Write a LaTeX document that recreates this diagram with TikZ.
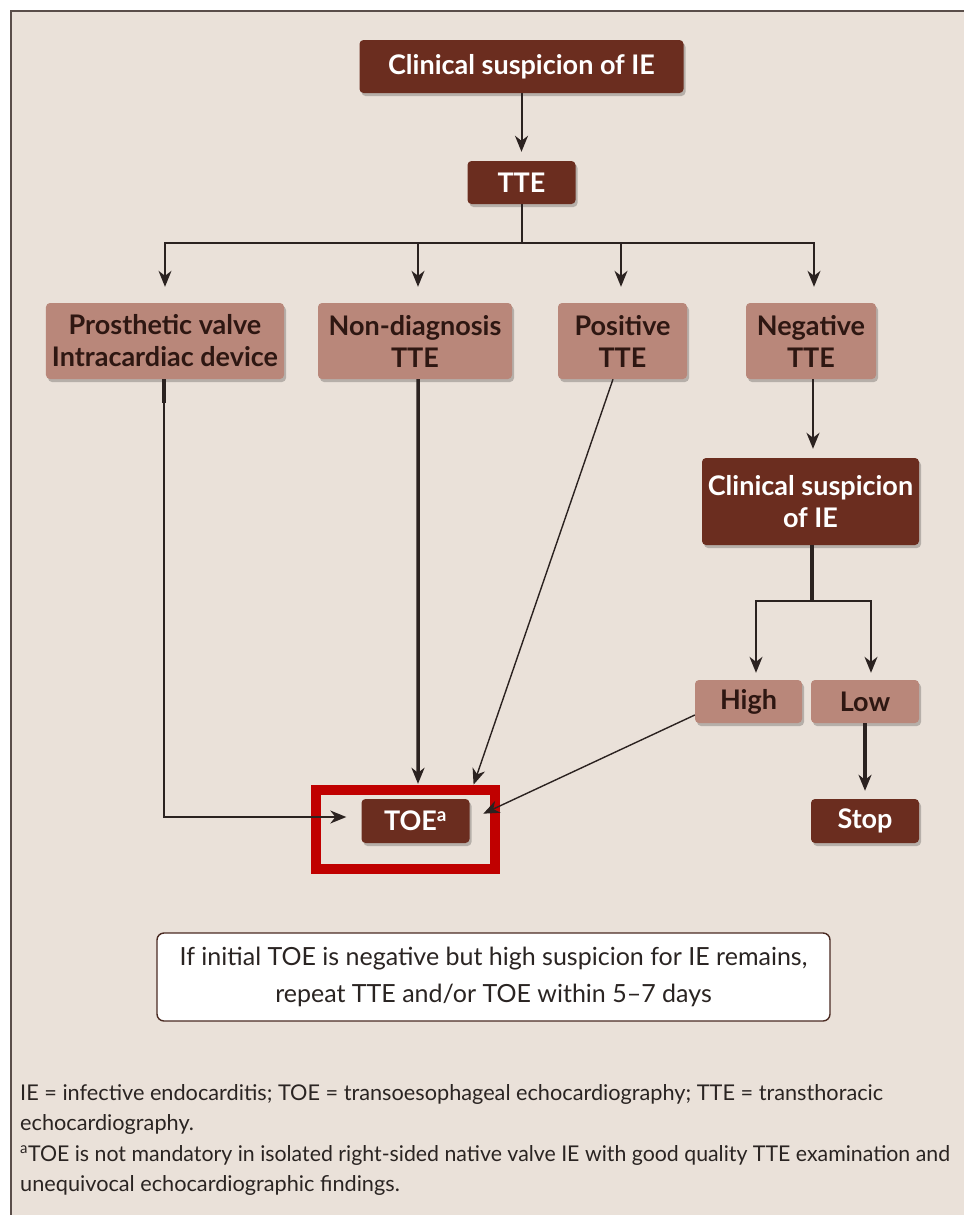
\documentclass[tikz,border=0pt]{standalone}
\usepackage{fontspec}
\usepackage{graphicx}
\setmainfont{Lato}
\usetikzlibrary{arrows.meta,shadows}
\definecolor{bg}{HTML}{EAE1D9}
\definecolor{darkb}{HTML}{6B2D1F}
\definecolor{lightb}{HTML}{B9877A}
\definecolor{boxtxt}{HTML}{2E1712}
\definecolor{linec}{HTML}{2B2220}
\definecolor{framec}{HTML}{5A4E4A}
\definecolor{redc}{HTML}{C00000}
\definecolor{notec}{HTML}{4A2A22}
\definecolor{fntxt}{HTML}{2A2422}
\tikzset{
  boxbase/.style={rounded corners=4bp, inner sep=0pt, align=center,
    font=\bfseries\fontsize{27bp}{32bp}\selectfont,
    drop shadow={shadow xshift=2bp, shadow yshift=-3bp, opacity=0.22, fill=black}},
  darkbox/.style={boxbase, fill=darkb, text=white},
  lightbox/.style={boxbase, fill=lightb, text=boxtxt},
  thinln/.style={draw=linec, line width=1.4bp},
  medln/.style={draw=linec, line width=2bp},
  thickln/.style={draw=linec, line width=3.5bp},
  arr/.style={-{Stealth[length=16bp,width=13bp,inset=5bp]}},
  fn/.style={anchor=base west, inner sep=0pt, text=fntxt,
    font=\fontsize{21.7bp}{25bp}\selectfont}
}
\begin{document}
\begin{tikzpicture}[x=1bp,y=-1bp]
\useasboundingbox (0,0) rectangle (964,1215);
\clip (0,0) rectangle (964,1215);
\fill[white] (0,0) rectangle (964,1215);
\fill[bg] (11,11) rectangle (964,1215);
\draw[framec, line width=1.6bp] (964,11) -- (11,11) -- (11,1215);

% nodes
\node[darkbox, minimum width=324bp, minimum height=53bp] (c1) at (521.5,66.5) {Clinical suspicion of IE};
\node[darkbox, minimum width=108bp, minimum height=43bp] (tte) at (521.5,182.5) {TTE};
\node[lightbox, minimum width=238bp, minimum height=76bp] (p1) at (165,341) {Prosthetic valve\\Intracardiac device};
\node[lightbox, minimum width=194bp, minimum height=76bp] (p2) at (415,341) {Non-diagnosis\\TTE};
\node[lightbox, minimum width=129bp, minimum height=76bp] (p3) at (622.5,341) {Positive\\TTE};
\node[lightbox, minimum width=130bp, minimum height=76bp] (p4) at (811,341) {Negative\\TTE};
\node[darkbox, minimum width=217bp, minimum height=87bp] (c2) at (810.5,501.5) {Clinical suspicion\\of IE};
\node[lightbox, minimum width=107bp, minimum height=43bp] (high) at (748.5,701.5) {High};
\node[lightbox, minimum width=108bp, minimum height=43bp] (low) at (865,701.5) {Low};
\node[darkbox, minimum width=108bp, minimum height=44bp] (toe) at (415.5,821) {TOE\textsuperscript{a}};
\node[darkbox, minimum width=108bp, minimum height=44bp] (stop) at (865,821) {Stop};
\node[draw=redc, line width=10bp, minimum width=179bp, minimum height=79bp, inner sep=0pt] (redframe) at (405.5,829) {};
\node[draw=notec, line width=1.4bp, fill=white, rounded corners=7bp, inner sep=0pt,
  minimum width=673bp, minimum height=88bp, align=center, text=fntxt,
  font=\fontsize{25bp}{37bp}\selectfont] (note) at (493.5,977)
  {If initial TOE is negative but high suspicion for IE remains,\\repeat TTE and/or TOE within 5–7 days};

% junctions
\coordinate (br1) at (521.5,243);
\coordinate (br2) at (812,601);

% connectors
\draw[medln, arr, shorten >=9bp] (c1.south) -- (tte.north);
\draw[medln] (tte.south) -- (br1);
\draw[thinln, arr, shorten >=16bp] (br1) -| (p1.north);
\draw[thinln, arr, shorten >=16bp] (br1) -| ([xshift=3bp]p2.north);
\draw[thinln, arr, shorten >=16bp] (br1) -| ([xshift=-1.5bp]p3.north);
\draw[thinln, arr, shorten >=16bp] (br1) -| ([xshift=3bp]p4.north);

\draw[thinln, arr, shorten >=15bp] ([xshift=-1bp]p1.south) |- ([yshift=4bp]toe.west);
\draw[thickln] ([xshift=-1bp]p1.south) -- ++(0,24);
\draw[thickln, arr, shorten >=15bp] ([xshift=3bp]p2.south) -- ([xshift=2.5bp]toe.north);
\draw[thinln, arr, shorten >=15bp] ([xshift=-9.5bp]p3.south) -- ([xshift=-1bp]toe.north east);
\draw[thinln, arr, shorten >=15bp] ([yshift=-13.5bp]high.west) -- ([yshift=1bp]toe.east);

\draw[medln, arr, shorten >=9bp] ([xshift=2bp]p4.south) -- ([xshift=2.5bp]c2.north);
\draw[thickln] ([xshift=1.5bp]c2.south) -- (br2);
\draw[thinln, arr, shorten >=7bp] (br2) -| ([xshift=7.5bp]high.north);
\draw[thinln, arr, shorten >=7bp] (br2) -| ([xshift=6bp]low.north);
\draw[thickln, arr, shorten >=8bp] (low.south) -- (stop.north);

% footnotes
\node[fn] (fn1) at (20,1100) {IE = infective endocarditis; TOE = transoesophageal echocardiography; TTE = transthoracic};
\node[fn] (fn2) at (20,1130.5) {echocardiography.};
\node[fn] (fn3) at (20,1161) {\scalebox{0.982}[1]{\textsuperscript{a}TOE is not mandatory in isolated right-sided native valve IE with good quality TTE examination and}};
\node[fn] (fn4) at (20,1191.5) {unequivocal echocardiographic findings.};
\end{tikzpicture}
\end{document}
